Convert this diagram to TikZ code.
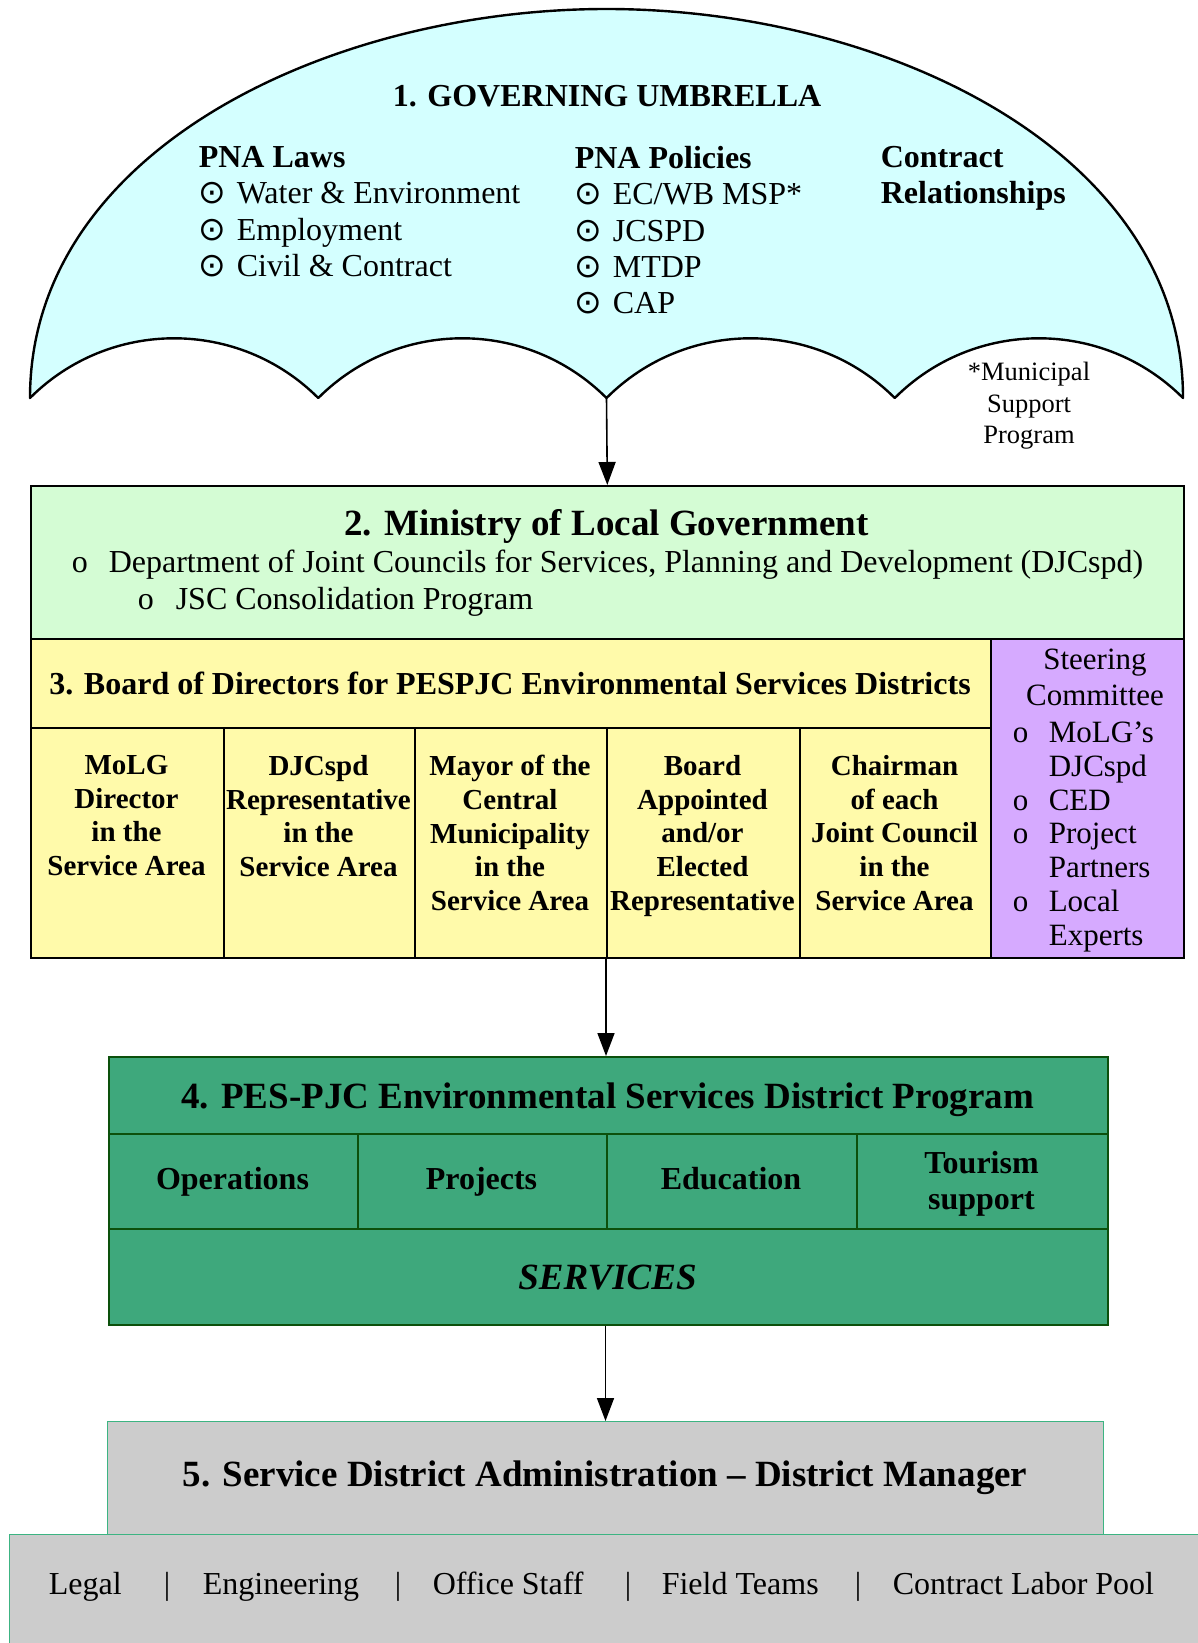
\documentclass[tikz,border=0pt]{standalone}
\usepackage{fontspec}
\setmainfont{Liberation Serif}
\newfontfamily\symfont{DejaVu Sans}
\usetikzlibrary{arrows.meta,positioning}

\definecolor{umbfill}{RGB}{212,255,255}
\definecolor{molgfill}{RGB}{212,252,212}
\definecolor{boardfill}{RGB}{255,250,170}
\definecolor{steerfill}{RGB}{214,170,255}
\definecolor{progfill}{RGB}{62,168,124}
\definecolor{progline}{RGB}{12,80,12}
\definecolor{adminfill}{RGB}{204,204,204}
\definecolor{adminline}{RGB}{60,180,130}

\newcommand\ubul{\makebox[38pt][l]{\symfont\fontsize{33}{36}\selectfont ⊙}}
\newcommand\sbul{\makebox[36pt][l]{o}}

\begin{document}
\begin{tikzpicture}[x=1pt, y=-1pt, line width=1.6pt, >={Triangle[length=23pt,width=17pt]},
    cell/.style={draw, anchor=north west, inner sep=0pt},
    textblock/.style={align=left, anchor=north west, inner sep=0pt, execute at begin node=\strut},
    bodytext/.style={font=\fontsize{32}{36}\selectfont},
    headtext/.style={font=\fontsize{37}{42}\selectfont\bfseries}]
    \useasboundingbox (0,0) rectangle (1198,1643);

    \draw[fill=umbfill, line width=2.4pt, line join=round]
      (30,398) .. controls (30,150) and (330,9) .. (606.5,9)
      .. controls (883,9) and (1183,150) .. (1183,398)
      \foreach \a in {1183,894.75,606.5,318.25} { .. controls (\a-79.6,318.4) and (\a-208.65,318.4) .. (\a-288.25,398) } -- cycle;
    \coordinate (umbtip) at (606.5,398);
    \node[font=\fontsize{32}{36}\selectfont\bfseries, anchor=base] (umbtitle) at (607,107) {1. GOVERNING UMBRELLA};
    \node[textblock, font=\fontsize{32}{36.3}\selectfont] (laws) at (198,145.5)
      {\textbf{PNA Laws}\\ \ubul Water \& Environment\\ \ubul Employment\\ \ubul Civil \& Contract};
    \node[textblock, font=\fontsize{32}{36.3}\selectfont] (policies) at (574,145.5)
      {\textbf{PNA Policies}\\ \ubul EC/WB MSP*\\ \ubul JCSPD\\ \ubul MTDP\\ \ubul CAP};
    \node[textblock, font=\fontsize{32}{36.3}\selectfont\bfseries] (contracts) at (880,145.5) {Contract\\Relationships};
    \node[textblock, align=center, anchor=north, font=\fontsize{26.5}{31.5}\selectfont] (msp) at (1029,361.5) {*Municipal\\Support\\Program};

    \node[cell, fill=molgfill, minimum width=1153pt, minimum height=153pt] (molg) at (30,485) {};
    \node[headtext, anchor=base] (molgtitle) at (606.5,535) {2. Ministry of Local Government};
    \node[bodytext, anchor=base west, inner sep=0pt] (djc) at (71,572)
      {\makebox[37pt][l]{o}Department of Joint Councils for Services, Planning and Development (DJCspd)};
    \node[bodytext, anchor=base west, inner sep=0pt] (jsc) at (137,609)
      {\makebox[38pt][l]{o}JSC Consolidation Program};

    \node[cell, fill=boardfill, minimum width=960pt, minimum height=89pt] (board) at (30,638) {};
    \node[font=\fontsize{32}{36}\selectfont\bfseries, anchor=base] (boardtitle) at (510,694)
      {3. Board of Directors for PESPJC Environmental Services Districts};
    \foreach \i/\x/\w/\txt in {1/30/193/{MoLG\\Director\\in the\\Service Area},
        2/223/191/{DJCspd\\Representative\\in the\\Service Area},
        3/414/192/{Mayor of the\\Central\\Municipality\\in the\\Service Area},
        4/606/193/{Board\\Appointed\\and/or\\Elected\\Representative},
        5/799/191/{Chairman\\of each\\Joint Council\\in the\\Service Area}} {
      \node[cell, fill=boardfill, minimum width=\w pt, minimum height=230pt] (member\i) at (\x,727) {};
      \node[textblock, align=center, anchor=north, font=\fontsize{29}{33.8}\selectfont\bfseries] (membertext\i) at (\x+\w/2,754.3) {\txt};
    }
    \node[cell, fill=steerfill, minimum width=193pt, minimum height=319pt] (steer) at (990,638) {};
    \node[textblock, align=center, anchor=north, font=\fontsize{31}{36}\selectfont] (steertitle) at (1095,648.3) {Steering\\Committee};
    \node[textblock, font=\fontsize{31}{33.8}\selectfont] (steerlist) at (1012,721)
      {\sbul MoLG’s\\ \hspace*{36pt}DJCspd\\ \sbul CED\\ \sbul Project\\ \hspace*{36pt}Partners\\ \sbul Local\\ \hspace*{36pt}Experts};

    \node[cell, draw=progline, fill=progfill, minimum width=999pt, minimum height=77pt] (prog) at (108,1056) {};
    \node[headtext, anchor=base] (progtitle) at (607.5,1108) {4. PES-PJC Environmental Services District Program};
    \foreach \i/\x/\w/\txt in {1/108/249/Operations, 2/357/249/Projects, 3/606/250/Education} {
      \node[cell, draw=progline, fill=progfill, minimum width=\w pt, minimum height=95pt] (task\i) at (\x,1133) {};
      \node[font=\fontsize{32}{36}\selectfont\bfseries, anchor=base] (tasktext\i) at (\x+\w/2,1189) {\txt};
    }
    \node[cell, draw=progline, fill=progfill, minimum width=251pt, minimum height=95pt] (task4) at (856,1133) {};
    \node[textblock, align=center, anchor=north, font=\fontsize{32}{36}\selectfont\bfseries] (tasktext4) at (981.5,1150) {Tourism\\support};
    \node[cell, draw=progline, fill=progfill, minimum width=999pt, minimum height=96pt] (services) at (108,1228) {};
    \node[font=\fontsize{37}{42}\selectfont\bfseries\itshape, anchor=base] (servicestext) at (607.5,1289) {SERVICES};

    \node[cell, draw=adminline, line width=1pt, fill=adminfill, minimum width=1210pt, minimum height=130pt] (staff) at (9,1534) {};
    \node[cell, draw=adminline, line width=1pt, fill=adminfill, minimum width=996pt, minimum height=113pt] (admin) at (107,1421) {};
    \node[headtext, anchor=base] (admintitle) at (605,1486) {5. Service District Administration – District Manager};
    \foreach \i/\x/\txt in {1/48/Legal, 2/163/|, 3/202/Engineering, 4/394/|, 5/432/Office Staff,
        6/624/|, 7/661/Field Teams, 8/854/|, 9/892/Contract Labor Pool}
      \node[bodytext, anchor=base west, inner sep=0pt] (staff\i) at (\x,1594) {\txt};

    \draw[->] (umbtip) -- (molg.north);
    \draw[->] (member4.south west) -- (member4.south west |- prog.north);
    \draw[->] (admin.north |- services.south) -- (admin.north);
\end{tikzpicture}
\end{document}
